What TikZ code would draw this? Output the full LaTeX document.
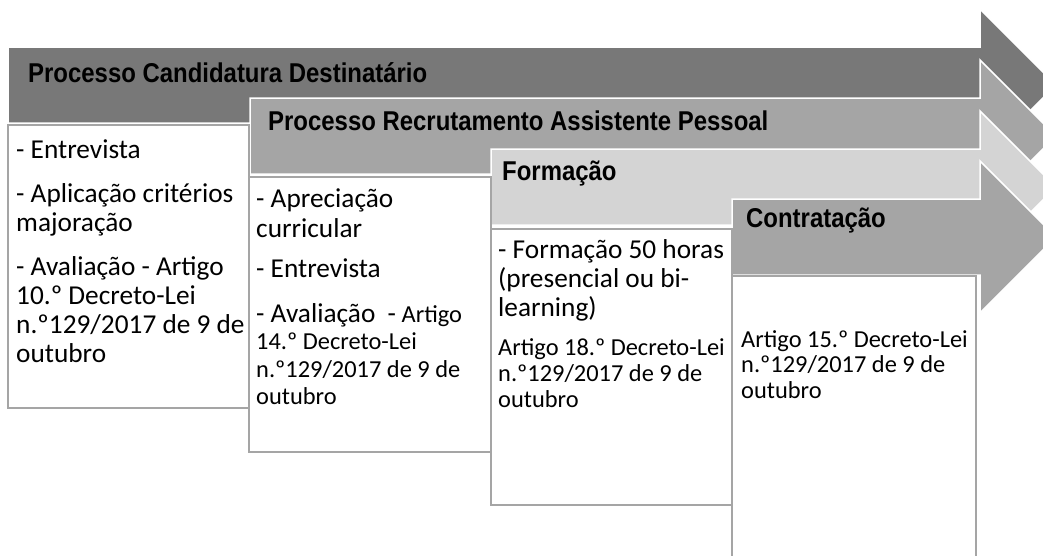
\documentclass[tikz,border=0pt]{standalone}
\usepackage{fontspec}
\setmainfont{Carlito}
\newfontfamily\titlefont{Liberation Sans}[FakeStretch=0.88]
\definecolor{dk}{HTML}{787878}
\definecolor{md}{HTML}{A5A5A5}
\definecolor{lt}{HTML}{D4D4D4}
\newcommand\lgfont{\fontsize{27.3}{29}\selectfont}
\begin{document}
\begin{tikzpicture}[x=1pt,y=-1pt,
  arrowshape/.style={draw=white, line width=1.5pt, line join=miter},
  boxshape/.style={draw=md, fill=white, line width=2.5pt},
  title/.style={anchor=base west, inner sep=0pt, text=black, font=\titlefont\bfseries\fontsize{27.2}{30}\selectfont},
  body/.style={anchor=base west, inner sep=0pt, text=black}]
\useasboundingbox (0,0) rectangle (1043,555);
\clip (0,0) rectangle (1043,555);
% arrows
\foreach \x/\t/\c in {8/47/dk, 250/98/md, 491/149/lt, 732/199/md} {
  \filldraw[arrowshape, fill=\c] (\x,\t) -- (980,\t) -- (980,\t-38) -- (1056,\t+38)
    -- (980,\t+114) -- (980,\t+76) -- (\x,\t+76) -- cycle;
}
% boxes
\draw[boxshape] (8,125) rectangle (249,408);
\draw[boxshape] (249,177) rectangle (491,452);
\draw[boxshape] (491,229) rectangle (732,505);
\draw[boxshape] (732,276) rectangle (976,600);
% titles
\node[title] (t1) at (28,82) {Processo Candidatura Destinatário};
\node[title] (t2) at (268,130) {Processo Recrutamento Assistente Pessoal};
\node[title] (t3) at (502,180) {Formação};
\node[title] (t4) at (746,227) {Contratação};
% body texts
\node[body] (b1) at (16,158) {\begin{minipage}[t]{234pt}\raggedright\parskip=0pt\lgfont
- Entrevista\par\vspace{15pt}
- Aplicação critérios\\majoração\par\vspace{15pt}
- Avaliação - Artigo\\10.º Decreto-Lei\\n.º129/2017 de 9 de\\outubro\par
\end{minipage}};
\node[body] (b2) at (256,207) {\begin{minipage}[t]{234pt}\raggedright\parskip=0pt\fontsize{27.3}{30}\selectfont
- Apreciação\\curricular\par\vspace{10pt}
- Entrevista\par\vspace{17.5pt}
\fontsize{24.4}{27.5}\selectfont{\lgfont - Avaliação\ \ -} Artigo\\14.º Decreto-Lei\\n.º129/2017 de 9 de\\outubro\par
\end{minipage}};
\node[body] (b3) at (498,258) {\begin{minipage}[t]{234pt}\raggedright\parskip=0pt\lgfont
- Formação 50 horas\\(presencial ou bi-\\learning)\par\vspace{13pt}
\fontsize{24.4}{26}\selectfont Artigo 18.º Decreto-Lei\\n.º129/2017 de 9 de\\outubro\par
\end{minipage}};
\node[body] (b4) at (741,347) {\begin{minipage}[t]{234pt}\raggedright\parskip=0pt\fontsize{24.4}{25.5}\selectfont
Artigo 15.º Decreto-Lei\\n.º129/2017 de 9 de\\outubro\par
\end{minipage}};
\end{tikzpicture}
\end{document}
